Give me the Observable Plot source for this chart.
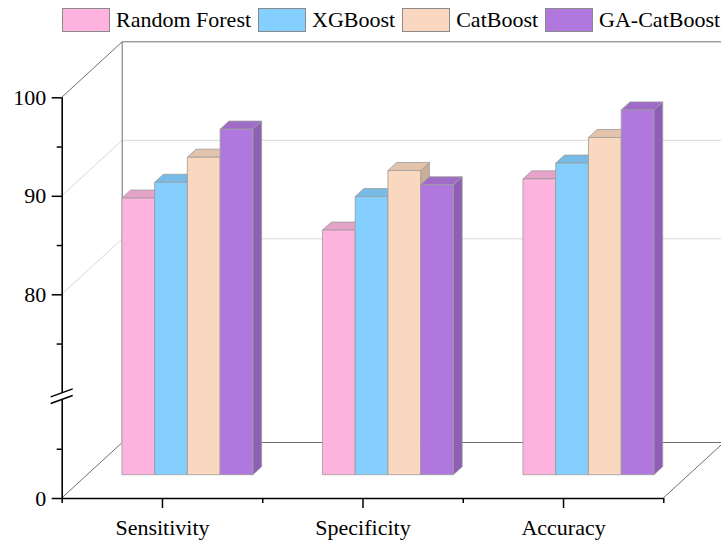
<!DOCTYPE html>
<html>
<head>
<meta charset="utf-8">
<script src="https://cdn.jsdelivr.net/npm/d3@7"></script>
<script src="https://cdn.jsdelivr.net/npm/@observablehq/plot@0.6"></script>
<style>
  html, body { margin: 0; padding: 0; background: #fff; }
  #wrap { position: relative; width: 721px; height: 541px; overflow: hidden; }
  #legend { position: absolute; left: 62px; top: 8px; display: flex; align-items: center;
    font-family: "Liberation Serif", "Times New Roman", serif; font-size: 22px; color: #000; line-height: 24px; white-space: nowrap; }
  .sw { width: 46px; height: 22px; border: 1px solid #8a8a8a; margin-right: 6px; }
  .lab { margin-right: 7px; }
</style>
</head>
<body>
<div id="wrap"><div id="legend"></div></div>
<script>
const categories = ["Sensitivity", "Specificity", "Accuracy"];
const models = ["Random Forest", "XGBoost", "CatBoost", "GA-CatBoost"];
const randomForest = [87.4, 84.15, 89.35];
const xgboost = [89.0, 87.55, 90.95];
const catboost = [91.55, 90.2, 93.55];
const gaCatboost = [94.4, 88.75, 96.35];
const majorTicks = [0, 80, 90, 100];
const minorTicks = [5, 75, 85, 95];
const gridValues = [80, 90];

const seriesValues = [randomForest, xgboost, catboost, gaCatboost];
const frontColors = ["#FDB3DD", "#84CFFE", "#F9D8BF", "#B077DE"];
const topColors = ["#E6A3C9", "#77BBE6", "#E2C3AC", "#9F6CC8"];
const sideColors = ["#CC90B2", "#6AA7CE", "#C9AE99", "#8E5FB2"];

const bars = [];
categories.forEach((c, i) => models.forEach((m, j) => bars.push({cat: c, ci: i, model: m, mj: j, value: seriesValues[j][i]})));

// legend
const legend = document.getElementById("legend");
models.forEach((m, j) => {
  const s = document.createElement("div"); s.className = "sw"; s.style.background = frontColors[j];
  const t = document.createElement("div"); t.className = "lab"; t.textContent = m;
  legend.appendChild(s); legend.appendChild(t);
});

// oblique depth vector (pixels) and bar placement in depth
const DX = 60.5, DY = -55.5, F0 = 0.42, F1 = 0.565, BARFRAC = 0.1633;

function scene(index, scales) {
  const X = scales.x, Y = scales.y;
  const g = d3.create("svg:g");
  const xl = X(0), xr = X(3);
  const line = (x1, y1, x2, y2, stroke, w) => g.append("line").attr("x1", x1).attr("y1", y1).attr("x2", x2).attr("y2", y2)
    .attr("stroke", stroke).attr("stroke-width", w);
  // back wall gridlines
  for (const v of gridValues) {
    line(xl, Y(v), xl + DX, Y(v) + DY, "#d9d9d9", 1);
    line(xl + DX, Y(v) + DY, xr + DX, Y(v) + DY, "#d9d9d9", 1);
  }
  const fc = "#6f6f6f";
  line(xl, Y(100), xl + DX, Y(100) + DY, fc, 1);
  line(xl, Y(0), xl + DX, Y(0) + DY, fc, 1);
  line(xl + DX, Y(100) + DY, xl + DX, Y(0) + DY, fc, 1);
  line(xl + DX, Y(100) + DY, xr + DX, Y(100) + DY, fc, 1);
  line(xl + DX, Y(0) + DY, xr + DX, Y(0) + DY, fc, 1);
  line(xr, Y(0), xr + DX, Y(0) + DY, fc, 1);
  // bars
  const bw = (X(1) - X(0)) * BARFRAC;
  const ox = F0 * DX, oy = F0 * DY, ddx = (F1 - F0) * DX, ddy = (F1 - F0) * DY;
  const poly = (pts, fill) => g.append("polygon").attr("points", pts.map(p => p.join(",")).join(" "))
    .attr("fill", fill).attr("stroke", "#9c9c9c").attr("stroke-width", 0.8).attr("stroke-linejoin", "round");
  for (const b of bars) {
    const x1 = X(b.ci + 0.5) + (b.mj - 2) * bw + ox, x2 = x1 + bw;
    const yt = Y(b.value) + oy, y0 = Y(0) + oy;
    poly([[x2, yt], [x2 + ddx, yt + ddy], [x2 + ddx, y0 + ddy], [x2, y0]], sideColors[b.mj]);
    poly([[x1, yt], [x2, yt], [x2 + ddx, yt + ddy], [x1 + ddx, yt + ddy]], topColors[b.mj]);
    poly([[x1, yt], [x2, yt], [x2, y0], [x1, y0]], frontColors[b.mj]);
  }
  // axis break marks
  const yc = (Y(10) + Y(70)) / 2;
  for (const s of [-3.3, 3.3]) line(xl - 11, yc + s + 4, xl + 11, yc + s - 4, "#000", 1.5);
  return g.node();
}

const plot = Plot.plot({
  width: 721, height: 541,
  marginLeft: 61.7, marginRight: 57.7, marginTop: 97.3, marginBottom: 43,
  style: {fontFamily: "Liberation Serif, Times New Roman, serif", fontSize: "22px", background: "transparent", color: "#000", overflow: "visible"},
  x: {type: "linear", domain: [0, 3], range: [61.7, 663.3]},
  y: {type: "linear", domain: [0, 10, 70, 100], range: [498, 399.5, 392.8, 97.3]},
  marks: [
    scene,
    Plot.ruleX([[0, 10], [70, 100]], {x: 0, y1: d => d[0], y2: d => d[1], stroke: "#000", strokeWidth: 1.6}),
    Plot.ruleY([0], {x1: 0, x2: 3, stroke: "#000", strokeWidth: 1.6}),
    Plot.axisY(majorTicks, {tickSize: 10, tickPadding: 6, strokeWidth: 1.5, fontSize: 22, label: null}),
    Plot.axisY(minorTicks, {tickSize: 5, tickFormat: () => "", strokeWidth: 1.5, label: null}),
    Plot.axisX([0.5, 1.5, 2.5], {tickSize: 10, tickPadding: 11, strokeWidth: 1.5, fontSize: 22, tickFormat: d => categories[Math.floor(d)], label: null}),
    Plot.axisX([0, 1, 2, 3], {tickSize: 5, tickFormat: () => "", strokeWidth: 1.5, label: null})
  ]
});
plot.style.position = "absolute"; plot.style.left = "0px"; plot.style.top = "0px";
document.getElementById("wrap").insertBefore(plot, document.getElementById("legend"));
</script>
</body>
</html>
